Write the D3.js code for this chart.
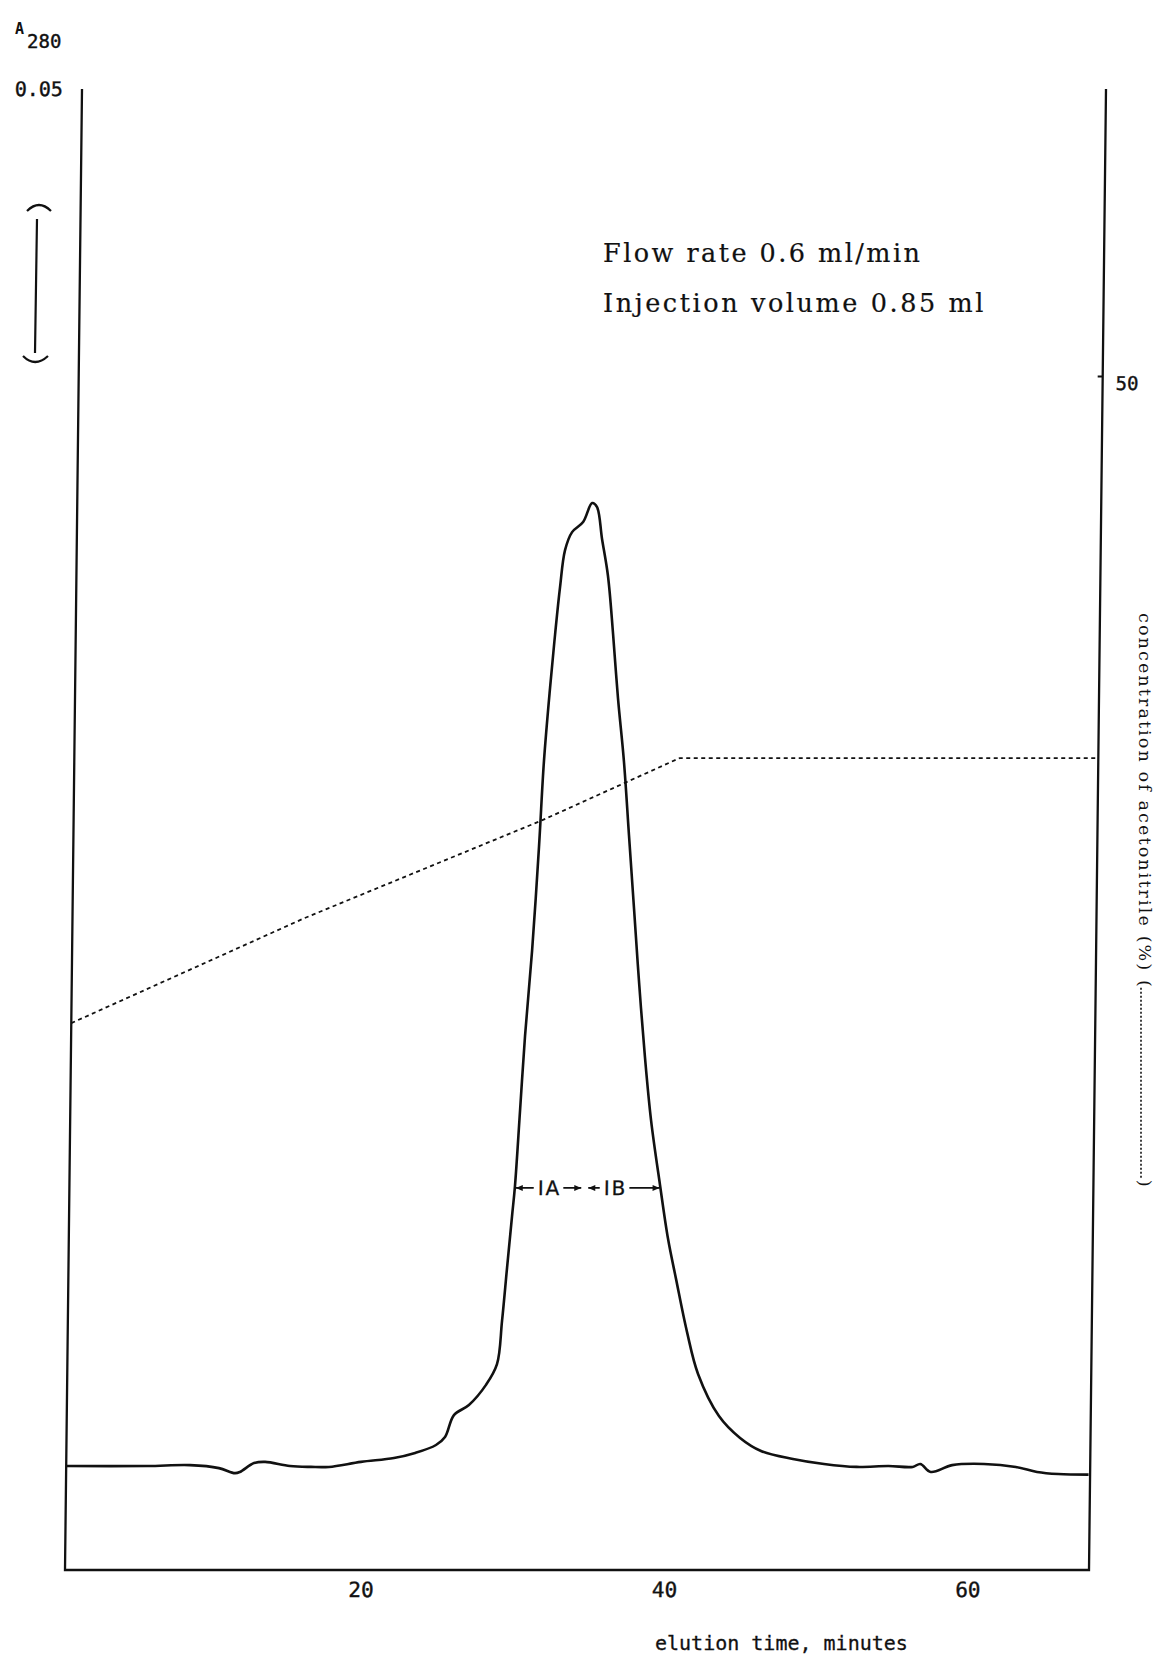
<!DOCTYPE html>
<html>
<head>
<meta charset="utf-8">
<script src="https://cdn.jsdelivr.net/npm/d3@7"></script>
<style>
  html, body { margin: 0; padding: 0; background: #fff; }
  svg { display: block; }
</style>
</head>
<body>
<div id="root"></div>
<script>
// elution time (min) and A280
const elutionTime = [0.5, 5.83, 8.66, 10.57, 11.63, 11.96, 12.88, 13.61, 15.25, 16.64, 17.82, 19.93, 22.1, 23.49, 24.86, 25.45, 26.02, 27.0, 28.11, 28.82,
  29.12, 29.41, 29.7, 29.87, 30.15, 30.42, 30.82, 31.2, 31.46, 31.81, 32.1, 32.39, 32.69, 33.14, 33.86, 34.44, 34.76, 35.12, 35.54, 35.92,
  36.29, 36.73, 37.12, 37.51, 37.9, 38.34, 38.79, 39.43, 40.0, 40.56, 41.32, 42.08, 43.49, 44.9, 46.29, 48.4, 50.45, 52.6, 54.7, 56.3,
  56.8, 57.5, 58.9, 61.0, 63.1, 64.5, 65.9, 67.9];
const absorbance = [0.00351, 0.00351, 0.00354, 0.00344, 0.00327, 0.00331, 0.00361, 0.00365, 0.00351, 0.00348, 0.00348, 0.00365, 0.00378, 0.00395, 0.00422, 0.00449, 0.00523, 0.00557, 0.00625, 0.00695,
  0.00841, 0.0102, 0.01195, 0.01296, 0.01553, 0.01803, 0.0209, 0.02444, 0.02731, 0.02981, 0.0316, 0.03319, 0.03443, 0.03504, 0.03538, 0.03602, 0.03589, 0.03481, 0.03356, 0.0316,
  0.02944, 0.02731, 0.02481, 0.02232, 0.01982, 0.01732, 0.01519, 0.013, 0.01118, 0.00982, 0.00804, 0.00662, 0.0052, 0.00446, 0.00402, 0.00375, 0.00358, 0.00348, 0.00351, 0.00348,
  0.00358, 0.00331, 0.00354, 0.00358, 0.00348, 0.00331, 0.00324, 0.00322];

// acetonitrile gradient (dashed)
const gradientTime = [0.5, 15.8, 31.4, 40.4, 68];
const gradientConc = [22.9, 27.3, 31.4, 34.0, 34.0];

// fraction cut (IA | IB) at this A280 level
const fractionNames = ['IA', 'IB'];
const fractionCuts = [29.86, 34.44, 39.47];
const fractionLevel = 0.0129;

const timeTicks = [20, 40, 60];
const absTicks = [0.05];
const concTicks = [50];
const notes = ['Flow rate 0.6 ml/min', 'Injection volume 0.85 ml'];

const ink = '#111';
const typeSans = '"DejaVu Sans Mono", monospace';
const typeSerif = '"DejaVu Serif", "Liberation Serif", serif';

const x = d3.scaleLinear().domain([0.5, 68]).range([65, 1089]);
const yAbs = d3.scaleLinear().domain([0, 0.05]).range([1570, 89]);
const yConc = d3.scaleLinear().domain([0, 50]).range([1570, 376]);
const [t0, t1] = x.domain();

const svg = d3.select('#root').append('svg').attr('width', 1168).attr('height', 1658);

// the original sheet leans a little to the right
const lean = Math.atan(17 / 1481) * 180 / Math.PI;
const plot = svg.append('g')
  .attr('transform', `translate(0,${yAbs(0)}) skewX(${-lean}) translate(0,${-yAbs(0)})`);

plot.append('path')
  .attr('d', d3.line()([[x(t0), yAbs(0.05)], [x(t0), yAbs(0)], [x(t1), yAbs(0)], [x(t1), yAbs(0.05)]]))
  .attr('fill', 'none').attr('stroke', ink).attr('stroke-width', 2.3);

function styleAxis(g, size) {
  g.select('.domain').remove();
  g.attr('font-family', typeSans).attr('font-size', size);
  g.selectAll('text').attr('fill', ink).attr('stroke', ink).attr('stroke-width', 0.4);
  g.selectAll('line').attr('stroke', ink).attr('stroke-width', 2);
}

plot.append('g')
  .attr('transform', `translate(${x(t0)},0)`)
  .call(d3.axisLeft(yAbs).tickValues(absTicks).tickSize(0).tickPadding(19).tickFormat(d3.format('.2f')))
  .call(g => styleAxis(g, 20));

plot.append('g')
  .attr('transform', `translate(${x(t1)},0)`)
  .call(d3.axisRight(yConc).tickValues(concTicks).tickSize(-5).tickPadding(13))
  .call(g => styleAxis(g, 19))
  .call(g => g.selectAll('text').attr('y', 7));

plot.append('g')
  .attr('transform', `translate(0,${yAbs(0)})`)
  .call(d3.axisBottom(x).tickValues(timeTicks).tickSize(0).tickPadding(12))
  .call(g => styleAxis(g, 21));

// gradient
const gradLine = d3.line()
  .x(i => x(gradientTime[i]))
  .y(i => yConc(gradientConc[i]));
plot.append('path')
  .attr('d', gradLine(d3.range(gradientTime.length)))
  .attr('fill', 'none').attr('stroke', ink).attr('stroke-width', 1.8)
  .attr('stroke-dasharray', '4,3.5');

// A280 trace
const trace = d3.line()
  .curve(d3.curveCatmullRom.alpha(0.5))
  .x(i => x(elutionTime[i]))
  .y(i => yAbs(absorbance[i]));
plot.append('path')
  .attr('d', trace(d3.range(elutionTime.length)))
  .attr('fill', 'none').attr('stroke', ink).attr('stroke-width', 2.6)
  .attr('stroke-linejoin', 'round');

// IA / IB fraction arrows
function arrowHead(g, tipX, y, dir) {
  g.append('path')
    .attr('d', `M${tipX},${y}L${tipX - dir * 7},${y - 3}L${tipX - dir * 7},${y + 3}Z`)
    .attr('fill', ink);
}
const cut = plot.append('g');
const cutY = yAbs(fractionLevel);
fractionNames.forEach((name, k) => {
  const a = x(fractionCuts[k]);
  const b = x(fractionCuts[k + 1]);
  const mid = a + (b - a) * (k === 0 ? 0.5 : 0.41);
  const label = cut.append('text')
    .attr('x', mid).attr('y', cutY + 7)
    .attr('text-anchor', 'middle')
    .attr('font-family', '"DejaVu Sans", sans-serif').attr('font-size', 20)
    .attr('letter-spacing', 2)
    .attr('fill', ink).attr('stroke', ink).attr('stroke-width', 0.3)
    .text(name);
  const w = label.node().getComputedTextLength();
  const l = a + (k === 0 ? 1 : 4);
  const r = b - (k === 0 ? 3 : 1);
  cut.append('line')
    .attr('x1', l).attr('x2', mid - w / 2 - 4)
    .attr('y1', cutY).attr('y2', cutY)
    .attr('stroke', ink).attr('stroke-width', 1.6);
  cut.append('line')
    .attr('x1', mid + w / 2 + 2).attr('x2', r)
    .attr('y1', cutY).attr('y2', cutY)
    .attr('stroke', ink).attr('stroke-width', 1.6);
  arrowHead(cut, l, cutY, -1);
  arrowHead(cut, r, cutY, 1);
});

// y label A280 and its line symbol
svg.append('text')
  .attr('x', 15).attr('y', 34)
  .attr('font-family', typeSans).attr('font-size', 15).attr('font-weight', 'bold')
  .attr('fill', ink)
  .text('A');
svg.append('text')
  .attr('x', 27).attr('y', 48)
  .attr('font-family', typeSans).attr('font-size', 19)
  .attr('fill', ink).attr('stroke', ink).attr('stroke-width', 0.4)
  .text('280');

svg.append('path')
  .attr('d', 'M27,211Q39,199 51,211M37,219L35,353M23,356Q35,368 48,356')
  .attr('fill', 'none').attr('stroke', ink).attr('stroke-width', 2.2);

// run conditions
svg.append('g')
  .selectAll('text')
  .data(notes)
  .join('text')
  .attr('x', 603).attr('y', (d, i) => 262 + i * 50)
  .attr('font-family', typeSerif).attr('font-size', 25.5)
  .attr('textLength', d => d.length * 15.85).attr('lengthAdjust', 'spacing')
  .attr('fill', ink).attr('stroke', ink).attr('stroke-width', 0.2)
  .text(d => d);

// x title
svg.append('text')
  .attr('x', 655).attr('y', 1650)
  .attr('font-family', typeSans).attr('font-size', 20)
  .attr('fill', ink).attr('stroke', ink).attr('stroke-width', 0.3)
  .text('elution time, minutes');

// right title with dotted line symbol
const rTitle = svg.append('g').attr('transform', 'translate(1139,613) rotate(90)');
const rString = 'concentration of acetonitrile (%) (';
const rLen = rString.length * 10.68;
rTitle.append('text')
  .attr('font-family', typeSerif).attr('font-size', 17.5)
  .attr('textLength', rLen).attr('lengthAdjust', 'spacing')
  .attr('fill', ink)
  .text(rString);
rTitle.append('line')
  .attr('x1', rLen + 1).attr('x2', rLen + 192)
  .attr('y1', -2).attr('y2', -2)
  .attr('stroke', ink).attr('stroke-width', 1.6)
  .attr('stroke-dasharray', '2,2');
rTitle.append('text')
  .attr('x', rLen + 193)
  .attr('font-family', typeSerif).attr('font-size', 17.5)
  .attr('fill', ink)
  .text(')');
</script>
</body>
</html>
